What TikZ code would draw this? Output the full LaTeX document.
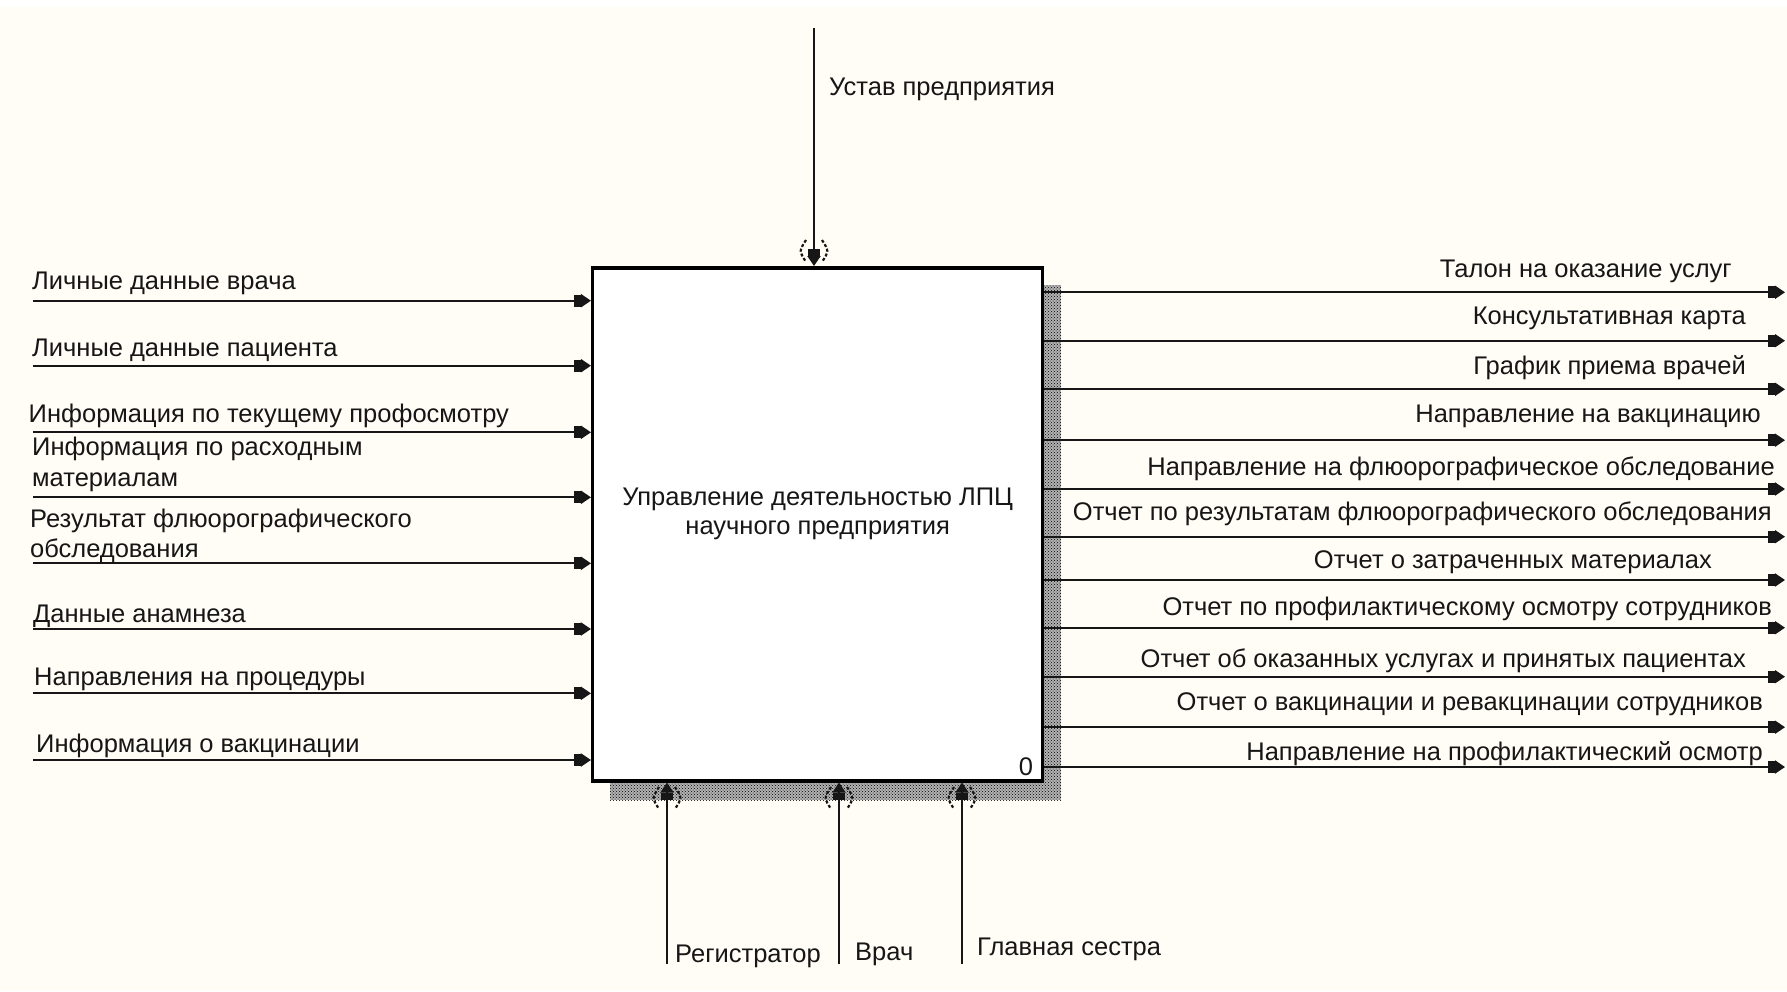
\documentclass[tikz,border=0pt]{standalone}
\usepackage{fontspec}
\setmainfont{Liberation Sans}
\usetikzlibrary{arrows.meta,patterns,calc}
\definecolor{paper}{HTML}{FFFDF6}
\definecolor{ink}{HTML}{161616}

\begin{document}
\begin{tikzpicture}[x=1pt,y=-1pt,
  lbl/.style={inner sep=0pt, font=\fontsize{25.5}{30.5}\selectfont, text=ink},
  flow/.style={line width=2pt, draw=ink,
    -{Square[length=7pt,width=12pt,sep=0pt]Triangle[length=10pt,width=13pt,sep=0pt]}},
  actbox/.style={draw=black, fill=white, line width=3.5pt,
    minimum width=450pt, minimum height=513pt, inner sep=0pt},
  tunnel/.style={line width=2.2pt, draw=ink, dash pattern=on 3pt off 2pt},
  tunnelpair/.pic={
    \draw[tunnel] (-8,-11) .. controls (-15,0) .. (-8,11);
    \draw[tunnel] (8,-11) .. controls (15,0) .. (8,11);
  },
]
\useasboundingbox (0,0) rectangle (1787,991);
\fill[paper] (0,0) rectangle (1787,991);
\fill[white] (0,0) rectangle (1787,7);

% hatched drop shadow of the activity box
\fill[gray!60] (610,285) rectangle (1061,800);
\fill[pattern=crosshatch dots, pattern color=black] (610,285) rectangle (1061,800);

% activity box
\node[actbox] (act) at (817.7,524.25) {};
\node[lbl, align=center, font=\fontsize{25.5}{29.5}\selectfont] (actname) at (817.7,514)
  {Управление деятельностью ЛПЦ\\научного предприятия};
\node[lbl, anchor=base] (actnum) at (1026,775) {0};

% control
\coordinate (c1) at (814,28);
\draw[flow] (c1) -- (c1 |- act.north);
\pic at (814,251) {tunnelpair};
\node[lbl, anchor=base west] (lc1) at (829,95) {Устав предприятия};

% inputs
\coordinate (i1) at (33,300.7);
\coordinate (i2) at (33,365.7);
\coordinate (i3) at (33,432.3);
\coordinate (i4) at (33,497.3);
\coordinate (i5) at (33,563.3);
\coordinate (i6) at (33,629);
\coordinate (i7) at (33,693.3);
\coordinate (i8) at (33,760);
\foreach \k in {1,...,8} \draw[flow] (i\k) -- (i\k -| act.west);

\node[lbl, anchor=base west] (li1) at (32,289.3) {Личные данные врача};
\node[lbl, anchor=base west] (li2) at (32,356.6) {Личные данные пациента};
\node[lbl, anchor=base west] (li3) at (28.5,422.7) {Информация по текущему профосмотру};
\node[lbl, anchor=west, align=left] (li4) at (32,464.4) {Информация по расходным\\материалам};
\node[lbl, anchor=west, align=left] (li5) at (30,536) {Результат флюорографического\\обследования};
\node[lbl, anchor=base west] (li6) at (33,622) {Данные анамнеза};
\node[lbl, anchor=base west] (li7) at (34,685) {Направления на процедуры};
\node[lbl, anchor=base west] (li8) at (36,752) {Информация о вакцинации};

% outputs
\coordinate (o1) at (1785,292.3);
\coordinate (o2) at (1785,340.7);
\coordinate (o3) at (1785,389.3);
\coordinate (o4) at (1785,440.2);
\coordinate (o5) at (1785,489);
\coordinate (o6) at (1785,536.7);
\coordinate (o7) at (1785,580);
\coordinate (o8) at (1785,627.7);
\coordinate (o9) at (1785,676.7);
\coordinate (o10) at (1785,727.2);
\coordinate (o11) at (1785,767);
\foreach \k in {1,...,11} \draw[flow] (o\k -| act.east) -- (o\k);

\node[lbl, anchor=base east] (lo1) at (1732,277) {Талон на оказание услуг};
\node[lbl, anchor=base east] (lo2) at (1746,324) {Консультативная карта};
\node[lbl, anchor=base east] (lo3) at (1746,374) {График приема врачей};
\node[lbl, anchor=base east] (lo4) at (1761,422) {Направление на вакцинацию};
\node[lbl, anchor=base east] (lo5) at (1775,475) {Направление на флюорографическое обследование};
\node[lbl, anchor=base east] (lo6) at (1772,520) {Отчет по результатам флюорографического обследования};
\node[lbl, anchor=base east] (lo7) at (1712,568) {Отчет о затраченных материалах};
\node[lbl, anchor=base east] (lo8) at (1772,615) {Отчет по профилактическому осмотру сотрудников};
\node[lbl, anchor=base east] (lo9) at (1746,667) {Отчет об оказанных услугах и принятых пациентах};
\node[lbl, anchor=base east] (lo10) at (1763,710) {Отчет о вакцинации и ревакцинации сотрудников};
\node[lbl, anchor=base east] (lo11) at (1763,760) {Направление на профилактический осмотр};

% mechanisms
\coordinate (m1) at (667,964);
\coordinate (m2) at (839,964);
\coordinate (m3) at (962,964);
\foreach \k in {1,2,3} \draw[flow] (m\k) -- (m\k |- act.south);
\pic at (667,798) {tunnelpair};
\pic at (839,798) {tunnelpair};
\pic at (962,798) {tunnelpair};
\node[lbl, anchor=base west] (lm1) at (675,962) {Регистратор};
\node[lbl, anchor=base west] (lm2) at (855,960) {Врач};
\node[lbl, anchor=base west] (lm3) at (977,955) {Главная сестра};
\end{tikzpicture}
\end{document}
